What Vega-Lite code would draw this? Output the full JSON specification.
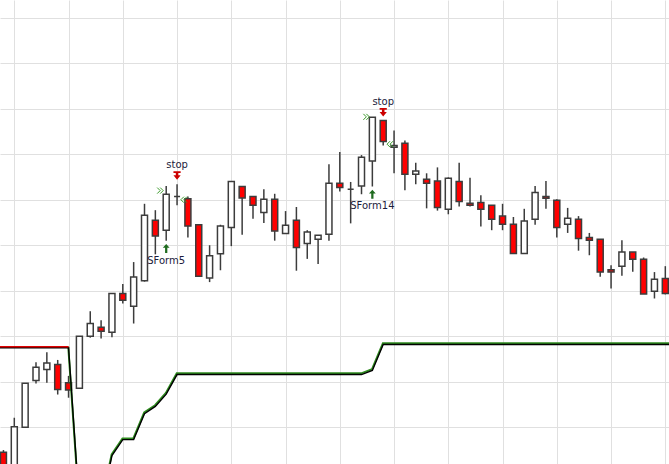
{
  "$schema": "https://vega.github.io/schema/vega-lite/v6.json",
  "width": 669,
  "height": 464,
  "autosize": "none",
  "padding": 0,
  "background": "white",
  "config": {
    "view": {"stroke": null},
    "axis": {"grid": true, "gridColor": "#e0e0e0", "gridWidth": 1, "labels": false, "ticks": false, "domain": false, "title": null}
  },
  "datasets": {
    "candles": [
      {"i": 0, "o": 94.5, "h": 95.0, "l": 88.9, "c": 90.2},
      {"i": 1, "o": 90.5, "h": 102.1, "l": 89.5, "c": 100.1},
      {"i": 2, "o": 100.0, "h": 109.7, "l": 100.0, "c": 109.7},
      {"i": 3, "o": 110.3, "h": 114.3, "l": 109.6, "c": 113.2},
      {"i": 4, "o": 112.7, "h": 116.5, "l": 109.8, "c": 114.1},
      {"i": 5, "o": 113.8, "h": 114.8, "l": 107.2, "c": 108.3},
      {"i": 6, "o": 109.8, "h": 111.3, "l": 106.5, "c": 108.2},
      {"i": 7, "o": 108.6, "h": 120.0, "l": 108.6, "c": 120.0},
      {"i": 8, "o": 120.0, "h": 125.5, "l": 119.7, "c": 122.8},
      {"i": 9, "o": 122.0, "h": 123.5, "l": 119.5, "c": 121.1},
      {"i": 10, "o": 120.9, "h": 129.4, "l": 119.8, "c": 129.4},
      {"i": 11, "o": 129.4, "h": 131.5, "l": 127.2, "c": 127.9},
      {"i": 12, "o": 126.6, "h": 136.3, "l": 122.8, "c": 133.0},
      {"i": 13, "o": 132.2, "h": 149.1, "l": 132.0, "c": 146.6},
      {"i": 14, "o": 145.5, "h": 147.7, "l": 138.0, "c": 142.0},
      {"i": 15, "o": 143.3, "h": 153.0, "l": 141.0, "c": 151.2},
      {"i": 16, "o": 150.7, "h": 153.4, "l": 148.8, "c": 150.7},
      {"i": 17, "o": 150.2, "h": 150.7, "l": 141.7, "c": 144.2},
      {"i": 18, "o": 144.5, "h": 144.5, "l": 133.2, "c": 133.2},
      {"i": 19, "o": 132.8, "h": 140.0, "l": 131.9, "c": 137.7},
      {"i": 20, "o": 138.1, "h": 144.5, "l": 134.5, "c": 144.2},
      {"i": 21, "o": 143.9, "h": 154.0, "l": 139.8, "c": 154.0},
      {"i": 22, "o": 152.9, "h": 152.9, "l": 142.3, "c": 150.4},
      {"i": 23, "o": 150.7, "h": 150.7, "l": 145.8, "c": 148.8},
      {"i": 24, "o": 147.2, "h": 152.3, "l": 144.9, "c": 150.1},
      {"i": 25, "o": 150.1, "h": 151.3, "l": 141.0, "c": 143.1},
      {"i": 26, "o": 142.6, "h": 147.5, "l": 142.6, "c": 144.4},
      {"i": 27, "o": 145.5, "h": 148.4, "l": 134.4, "c": 139.5},
      {"i": 28, "o": 140.4, "h": 143.3, "l": 137.0, "c": 142.9},
      {"i": 29, "o": 141.3, "h": 142.2, "l": 135.9, "c": 142.2},
      {"i": 30, "o": 142.4, "h": 157.8, "l": 141.0, "c": 153.6},
      {"i": 31, "o": 153.6, "h": 160.5, "l": 151.8, "c": 152.7},
      {"i": 32, "o": 152.3, "h": 153.9, "l": 144.8, "c": 152.3},
      {"i": 33, "o": 153.0, "h": 159.8, "l": 151.2, "c": 159.3},
      {"i": 34, "o": 158.5, "h": 168.1, "l": 152.9, "c": 168.1},
      {"i": 35, "o": 167.4, "h": 167.4, "l": 161.9, "c": 162.8},
      {"i": 36, "o": 161.5, "h": 165.2, "l": 155.8, "c": 161.9},
      {"i": 37, "o": 162.4, "h": 163.0, "l": 152.1, "c": 155.6},
      {"i": 38, "o": 155.6, "h": 158.1, "l": 153.4, "c": 156.3},
      {"i": 39, "o": 154.5, "h": 155.8, "l": 148.1, "c": 153.6},
      {"i": 40, "o": 154.1, "h": 157.1, "l": 147.6, "c": 148.3},
      {"i": 41, "o": 147.9, "h": 154.9, "l": 146.8, "c": 154.7},
      {"i": 42, "o": 154.0, "h": 158.1, "l": 148.5, "c": 149.6},
      {"i": 43, "o": 149.2, "h": 154.8, "l": 148.5, "c": 148.8},
      {"i": 44, "o": 149.4, "h": 151.0, "l": 144.1, "c": 147.9},
      {"i": 45, "o": 148.8, "h": 148.8, "l": 143.3, "c": 145.7},
      {"i": 46, "o": 146.4, "h": 149.1, "l": 143.3, "c": 144.6},
      {"i": 47, "o": 144.6, "h": 146.2, "l": 138.2, "c": 138.2},
      {"i": 48, "o": 138.2, "h": 148.0, "l": 138.2, "c": 145.3},
      {"i": 49, "o": 145.7, "h": 153.0, "l": 144.5, "c": 151.6},
      {"i": 50, "o": 150.7, "h": 154.1, "l": 148.0, "c": 150.3},
      {"i": 51, "o": 149.9, "h": 150.1, "l": 141.7, "c": 143.9},
      {"i": 52, "o": 144.6, "h": 148.2, "l": 142.7, "c": 145.9},
      {"i": 53, "o": 145.7, "h": 146.4, "l": 138.8, "c": 141.5},
      {"i": 54, "o": 141.7, "h": 142.7, "l": 137.8, "c": 141.1},
      {"i": 55, "o": 141.3, "h": 141.3, "l": 133.1, "c": 134.1},
      {"i": 56, "o": 134.6, "h": 135.6, "l": 130.5, "c": 134.1},
      {"i": 57, "o": 135.4, "h": 141.1, "l": 133.3, "c": 138.5},
      {"i": 58, "o": 138.5, "h": 138.5, "l": 134.2, "c": 136.9},
      {"i": 59, "o": 136.9, "h": 137.3, "l": 129.3, "c": 129.3},
      {"i": 60, "o": 129.9, "h": 134.1, "l": 128.3, "c": 132.5},
      {"i": 61, "o": 132.7, "h": 135.4, "l": 129.2, "c": 129.4}
    ],
    "stop": [
      {"i": -1, "p": 117.6}, {"i": 0, "p": 117.6}, {"i": 1, "p": 117.6}, {"i": 2, "p": 117.6},
      {"i": 3, "p": 117.6}, {"i": 4, "p": 117.6}, {"i": 5, "p": 117.6}, {"i": 6, "p": 117.6},
      {"i": 7, "p": 82.6}, {"i": 8, "p": 82.6}, {"i": 9, "p": 82.6}, {"i": 10, "p": 93.9},
      {"i": 11, "p": 97.4}, {"i": 12, "p": 97.4}, {"i": 13, "p": 103.1}, {"i": 14, "p": 104.7},
      {"i": 15, "p": 107.4}, {"i": 16, "p": 111.7}, {"i": 17, "p": 111.7}, {"i": 18, "p": 111.7},
      {"i": 19, "p": 111.7}, {"i": 20, "p": 111.7}, {"i": 21, "p": 111.7}, {"i": 22, "p": 111.7},
      {"i": 23, "p": 111.7}, {"i": 24, "p": 111.7}, {"i": 25, "p": 111.7}, {"i": 26, "p": 111.7},
      {"i": 27, "p": 111.7}, {"i": 28, "p": 111.7}, {"i": 29, "p": 111.7}, {"i": 30, "p": 111.7},
      {"i": 31, "p": 111.7}, {"i": 32, "p": 111.7}, {"i": 33, "p": 111.7}, {"i": 34, "p": 112.6},
      {"i": 35, "p": 118.3}, {"i": 36, "p": 118.3}, {"i": 37, "p": 118.3}, {"i": 38, "p": 118.3},
      {"i": 39, "p": 118.3}, {"i": 40, "p": 118.3}, {"i": 41, "p": 118.3}, {"i": 42, "p": 118.3},
      {"i": 43, "p": 118.3}, {"i": 44, "p": 118.3}, {"i": 45, "p": 118.3}, {"i": 46, "p": 118.3},
      {"i": 47, "p": 118.3}, {"i": 48, "p": 118.3}, {"i": 49, "p": 118.3}, {"i": 50, "p": 118.3},
      {"i": 51, "p": 118.3}, {"i": 52, "p": 118.3}, {"i": 53, "p": 118.3}, {"i": 54, "p": 118.3},
      {"i": 55, "p": 118.3}, {"i": 56, "p": 118.3}, {"i": 57, "p": 118.3}, {"i": 58, "p": 118.3},
      {"i": 59, "p": 118.3}, {"i": 60, "p": 118.3}, {"i": 61, "p": 118.3}, {"i": 62, "p": 118.3}
    ],
    "markers": [
      {"i": 16, "p": 155.3, "kind": "stop"},
      {"i": 35, "p": 169.2, "kind": "stop"},
      {"i": 15, "p": 139.3, "kind": "entry"},
      {"i": 34, "p": 151.2, "kind": "entry"}
    ],
    "labels": [
      {"i": 16, "p": 157.6, "text": "stop"},
      {"i": 35, "p": 171.5, "text": "stop"},
      {"i": 15, "p": 136.6, "text": "SForm5"},
      {"i": 34, "p": 148.6, "text": "SForm14"}
    ],
    "chevrons": [
      {"i": 15, "p": 152.0, "dir": "in"},
      {"i": 34, "p": 168.2, "dir": "in"},
      {"i": 17, "p": 150.0, "dir": "out"},
      {"i": 36, "p": 162.2, "dir": "out"}
    ]
  },
  "layer": [
    {
      "data": {"name": "candles"},
      "mark": {"type": "rule", "clip": true, "color": "#3c3c3c", "strokeWidth": 1.5},
      "encoding": {
        "x": {"field": "i", "type": "quantitative", "scale": {"domain": [-0.318, 61.34], "nice": false, "zero": false, "padding": 0},
              "axis": {"values": [1, 6, 11, 16, 21, 26, 31, 36, 41, 46, 51, 56, 61]}},
        "y": {"field": "l", "type": "quantitative", "scale": {"domain": [91.94, 193.87], "nice": false, "zero": false, "padding": 0},
              "axis": {"values": [100, 110, 120, 130, 140, 150, 160, 170, 180, 190]}},
        "y2": {"field": "h"}
      }
    },
    {
      "data": {"name": "candles"},
      "mark": {"type": "bar", "clip": true, "width": 6, "stroke": "#3c3c3c", "strokeWidth": 1.5},
      "encoding": {
        "x": {"field": "i", "type": "quantitative"},
        "y": {"field": "o", "type": "quantitative"},
        "y2": {"field": "c"},
        "fill": {"condition": {"test": "datum.c < datum.o", "value": "#ff0000"}, "value": "#ffffff"}
      }
    },
    {
      "data": {"name": "stop"},
      "transform": [{"filter": "datum.i >= 6"}],
      "mark": {"type": "line", "clip": true, "color": "#2e8b1e", "strokeWidth": 2, "yOffset": -0.7, "xOffset": -0.3},
      "encoding": {"x": {"field": "i", "type": "quantitative"}, "y": {"field": "p", "type": "quantitative"}}
    },
    {
      "data": {"name": "stop"},
      "mark": {"type": "line", "clip": true, "color": "#000000", "strokeWidth": 1.4, "yOffset": 0.5},
      "encoding": {"x": {"field": "i", "type": "quantitative"}, "y": {"field": "p", "type": "quantitative"}}
    },
    {
      "data": {"name": "stop"},
      "transform": [{"filter": "datum.i <= 6"}],
      "mark": {"type": "line", "clip": true, "color": "#e00000", "strokeWidth": 1.6, "yOffset": -0.5},
      "encoding": {"x": {"field": "i", "type": "quantitative"}, "y": {"field": "p", "type": "quantitative"}}
    },
    {
      "data": {"name": "markers"},
      "transform": [{"filter": "datum.kind == 'stop'"}],
      "mark": {"type": "point", "filled": true, "opacity": 1, "color": "#cc0000", "size": 72,
               "shape": "M-0.85,-1H0.85V-0.6H0.3V-0.1H0.85L0,1L-0.85,-0.1H-0.3V-0.6H-0.85Z"},
      "encoding": {"x": {"field": "i", "type": "quantitative"}, "y": {"field": "p", "type": "quantitative"}}
    },
    {
      "data": {"name": "markers"},
      "transform": [{"filter": "datum.kind == 'entry'"}],
      "mark": {"type": "point", "filled": true, "opacity": 1, "color": "#1f6b1f", "size": 81,
               "shape": "M0,-1L0.75,-0.15H0.25V1H-0.25V-0.15H-0.75Z"},
      "encoding": {"x": {"field": "i", "type": "quantitative"}, "y": {"field": "p", "type": "quantitative"}}
    },
    {
      "data": {"name": "chevrons"},
      "transform": [{"filter": "datum.dir == 'in'"}],
      "mark": {"type": "point", "filled": false, "opacity": 1, "color": "#3a9a2a", "strokeWidth": 1, "size": 36, "xOffset": -6,
               "shape": "M-1,-1L0,0L-1,1M0,-1L1,0L0,1"},
      "encoding": {"x": {"field": "i", "type": "quantitative"}, "y": {"field": "p", "type": "quantitative"}}
    },
    {
      "data": {"name": "chevrons"},
      "transform": [{"filter": "datum.dir == 'out'"}],
      "mark": {"type": "point", "filled": false, "opacity": 1, "color": "#3a9a2a", "strokeWidth": 1, "size": 36, "xOffset": -4,
               "shape": "M1,-1L0,0L1,1M0,-1L-1,0L0,1"},
      "encoding": {"x": {"field": "i", "type": "quantitative"}, "y": {"field": "p", "type": "quantitative"}}
    },
    {
      "data": {"name": "labels"},
      "mark": {"type": "text", "font": "DejaVu Sans", "fontSize": 10, "color": "#1c1c3c", "baseline": "middle", "align": "center"},
      "encoding": {"x": {"field": "i", "type": "quantitative"}, "y": {"field": "p", "type": "quantitative"}, "text": {"field": "text"}}
    }
  ]
}
